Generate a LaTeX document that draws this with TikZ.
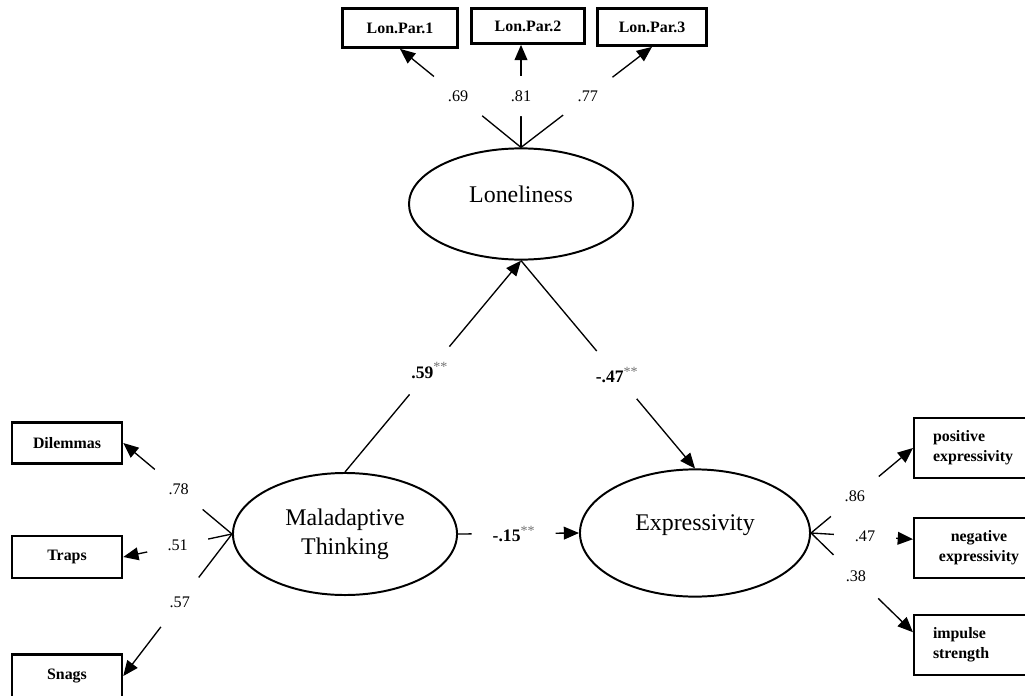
\documentclass[tikz,border=0pt]{standalone}
\usepackage{fontspec}
\setmainfont{Liberation Serif}
\usetikzlibrary{shapes.geometric,arrows.meta}

\newcommand{\sig}{\raisebox{0.75ex}{\mdseries\fontsize{10}{10}\selectfont\textcolor{black!55}{**}}}

\begin{document}
\begin{tikzpicture}[x=0.025cm, y=-0.025cm,
	latent/.style={ellipse, draw, line width=1.4pt, align=center, font=\fontsize{17}{20.5}\selectfont},
	obs/.style={draw, line width=1.8pt, font=\bfseries\fontsize{11.3}{14}\selectfont},
	path/.style={line width=0.95pt, -{Triangle[length=0.38cm, width=0.32cm]}},
	coef/.style={circle, fill=white, inner sep=0pt, minimum size=1.55cm, font=\fontsize{11.5}{13}\selectfont},
	coefb/.style={coef, font=\bfseries\fontsize{12.5}{14}\selectfont}]
	\useasboundingbox (0,0) rectangle (1025,696);

	% Latent variables
	\node[latent, minimum width=5.6cm, minimum height=2.78cm, text depth=0.5cm] (lon) at (521,204) {Loneliness};
	\node[latent, minimum width=5.6cm, minimum height=3.05cm] (mal) at (345,534) {Maladaptive\\Thinking};
	\node[latent, minimum width=5.75cm, minimum height=3.18cm, text depth=0.5cm] (exp) at (695,533) {Expressivity};

	% Indicators
	\node[obs, minimum width=2.88cm, minimum height=0.98cm] (lp1) at (400,28) {Lon.Par.1};
	\node[obs, minimum width=2.83cm, minimum height=0.88cm] (lp2) at (528,26) {Lon.Par.2};
	\node[obs, minimum width=2.73cm, minimum height=0.93cm] (lp3) at (652,27) {Lon.Par.3};
	\node[obs, minimum width=2.75cm, minimum height=1.03cm] (dil) at (67,443) {Dilemmas};
	\node[obs, minimum width=2.75cm, minimum height=1.05cm] (trp) at (67,557) {Traps};
	\node[obs, minimum width=2.75cm, minimum height=1.08cm] (snag) at (67,676) {Snags};
	\node[obs, minimum height=1.5cm, text width=2.3cm, inner xsep=0.47cm, align=left] (pos) at (979,448) {positive\\expressivity};
	\node[obs, minimum height=1.5cm, text width=2.3cm, inner xsep=0.47cm, align=center] (neg) at (979,548) {negative\\expressivity};
	\node[obs, minimum height=1.5cm, text width=2.3cm, inner xsep=0.47cm, align=left] (imp) at (979,645) {impulse\\strength};

	% Loadings
	\draw[path] (lon.north) -- node[coef, pos=0.52] {.69} (lp1.south);
	\draw[path] (lon.north) -- node[coef, pos=0.5, minimum size=1cm] {.81} (lon.north |- lp2.south);
	\draw[path] (lon.north) -- node[coef, pos=0.51] {.77} (lp3.south);
	\draw[path] (mal.west) -- node[coef, pos=0.49] {.78} (dil.east);
	\draw[path] (mal.west) -- node[coef, pos=0.5] {.51} (trp.east);
	\draw[path] (mal.west) -- node[coef, pos=0.48] {.57} (snag.east);
	\draw[path] (exp.east) -- node[coef, pos=0.43] {.86} (pos.west);
	\draw[path] (exp.east) -- node[coef, pos=0.53] {.47} ([yshift=0.22cm]neg.west);
	\draw[path] (exp.east) -- node[coef, pos=0.44] {.38} ([yshift=0.32cm]imp.west);

	% Structural paths
	\draw[path] (mal.north) -- node[coefb, pos=0.48] {.59\sig} (lon.south);
	\draw[path] (lon.south) -- node[coefb, pos=0.55] {-.47\sig} (exp.north);
	\draw[path] (mal.east) -- node[coefb, pos=0.46, minimum size=2.1cm] {-.15\sig} (exp.west);
\end{tikzpicture}
\end{document}
